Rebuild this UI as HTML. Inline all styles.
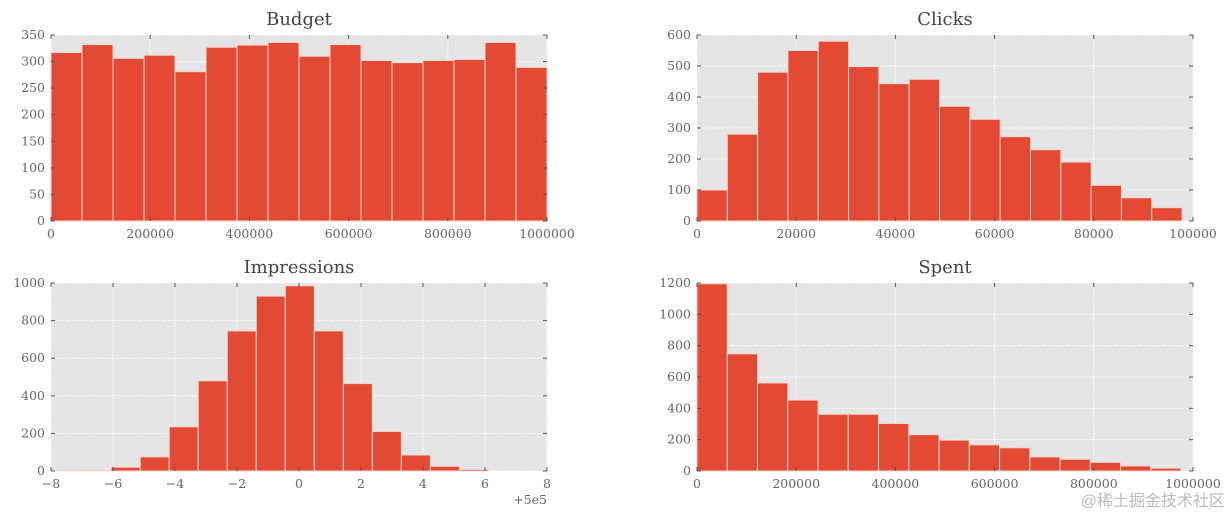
<!DOCTYPE html>
<html><head><meta charset="utf-8">
<style>
html,body{margin:0;padding:0;background:#fff;width:1231px;height:512px;overflow:hidden}
svg{display:block}
text{font-family:"DejaVu Serif","Liberation Serif",serif}
</style></head>
<body>
<svg id="fig" width="1231" height="512" xmlns="http://www.w3.org/2000/svg"></svg>
<script>
// Budget
const budgetCounts = [317,332,306,312,281,327,331,336,310,332,302,298,302,304,336,289];
const budgetTicksX = [0,200000,400000,600000,800000,1000000];
const budgetTicksY = [0,50,100,150,200,250,300,350];
// Clicks
const clicksCounts = [100,280,480,550,580,498,443,457,370,328,272,230,190,115,75,43];
const clicksTicksX = [0,20000,40000,60000,80000,100000];
const clicksTicksY = [0,100,200,300,400,500,600];
// Impressions
const imprCounts = [1,2,20,75,235,480,745,930,985,745,465,210,85,25,8];
const imprTicksX = [-8,-6,-4,-2,0,2,4,6,8];
const imprTicksY = [0,200,400,600,800,1000];
// Spent
const spentCounts = [1195,748,562,453,362,362,303,232,197,167,148,90,75,55,32,18];
const spentTicksX = [0,200000,400000,600000,800000,1000000];
const spentTicksY = [0,200,400,600,800,1000,1200];

const NS="http://www.w3.org/2000/svg";
const fig=document.getElementById('fig');
function mk(tag,attrs,parent){const e=document.createElementNS(NS,tag);for(const k in attrs)e.setAttribute(k,attrs[k]);(parent||fig).appendChild(e);return e;}

function panel(key,title,box,xr,yr,binStart,binEnd,counts,tx,ty,offsetLabel){
  const g=mk('g',{});
  
  
  const [x0,y0,x1,y1]=box;
  const sx=v=>x0+(v-xr[0])/(xr[1]-xr[0])*(x1-x0);
  const sy=v=>y1-(v-yr[0])/(yr[1]-yr[0])*(y1-y0);
  const bg=mk('rect',{x:x0,y:y0,width:x1-x0,height:y1-y0,fill:'#e5e5e5'},g);
  
  
  tx.forEach(v=>{const l=mk('line',{x1:sx(v),x2:sx(v),y1:y0,y2:y1,stroke:'#fff','stroke-dasharray':'1.5,1.5','stroke-width':1},g);
    });
  ty.forEach(v=>{const l=mk('line',{x1:x0,x2:x1,y1:sy(v),y2:sy(v),stroke:'#fff','stroke-dasharray':'1.5,1.5','stroke-width':1},g);
    });
  const w=(binEnd-binStart)/counts.length;
  counts.forEach((c,i)=>{
    const a=sx(binStart+i*w),b=sx(binStart+(i+1)*w);
    const r=mk('rect',{x:a,y:sy(c),width:b-a,height:y1-sy(c),fill:'#e24a33',stroke:'#f6d5cf','stroke-width':1},g);
    
    
  });
  tx.forEach(v=>{
    mk('line',{x1:sx(v),x2:sx(v),y1:y1,y2:y1-4,stroke:'#555'},g);
    mk('line',{x1:sx(v),x2:sx(v),y1:y0,y2:y0+4,stroke:'#555'},g);
    const t=mk('text',{x:sx(v),y:y1+17,'text-anchor':'middle','font-size':12.5,fill:'#666'},g);
    t.textContent=String(v).replace('-','\u2212');
    
  });
  ty.forEach(v=>{
    mk('line',{x1:x0,x2:x0+4,y1:sy(v),y2:sy(v),stroke:'#555'},g);
    mk('line',{x1:x1,x2:x1-4,y1:sy(v),y2:sy(v),stroke:'#555'},g);
    const t=mk('text',{x:x0-6,y:sy(v)+4,'text-anchor':'end','font-size':12.5,fill:'#666'},g);
    t.textContent=v;
    
  });
  const tt=mk('text',{x:(x0+x1)/2,y:y0-10,'text-anchor':'middle','font-size':18,fill:'#444'},g);
  tt.textContent=title;
  
  if(offsetLabel){const o=mk('text',{x:x1,y:y1+33,'text-anchor':'end','font-size':12.5,fill:'#666'},g);o.textContent=offsetLabel;
    }
}
panel('budget','Budget',[51,35,547,221],[0,1000000],[0,350],0,1000000,budgetCounts,budgetTicksX,budgetTicksY);
panel('clicks','Clicks',[697,35,1193,221],[0,100000],[0,600],0,97800,clicksCounts,clicksTicksX,clicksTicksY);
panel('impressions','Impressions',[51,283,547,471],[-8,8],[0,1000],-7.93,6.11,imprCounts,imprTicksX,imprTicksY,'+5e5');
panel('spent','Spent',[697,283,1193,471],[0,1000000],[0,1200],0,976000,spentCounts,spentTicksX,spentTicksY);
const wm=mk('text',{x:1225,y:506,'text-anchor':'end','font-size':16,fill:'#bbb'});
wm.setAttribute('style','font-family:"Liberation Sans","Noto Sans CJK SC",sans-serif');
wm.textContent='@稀土掘金技术社区';


</script>
</body></html>
